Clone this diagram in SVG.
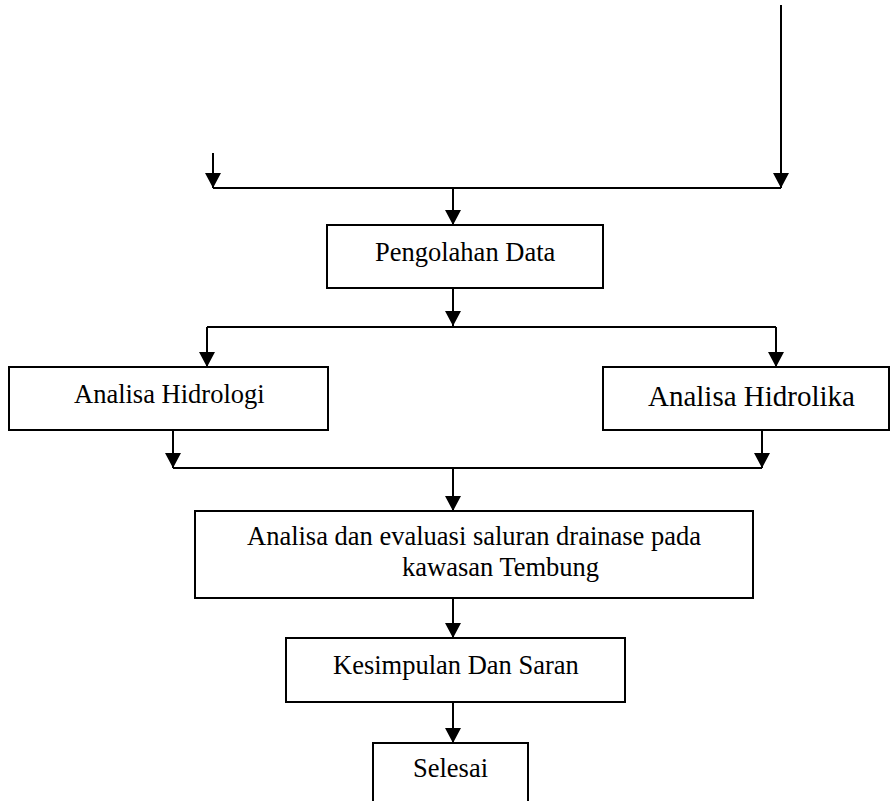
<svg xmlns="http://www.w3.org/2000/svg" width="891" height="801" viewBox="0 0 891 801">
<defs>
<marker id="ah" viewBox="0 0 15 16" refX="15" refY="8" markerWidth="15" markerHeight="16" markerUnits="userSpaceOnUse" orient="auto">
<path d="M0,0 L15,8 L0,16 z" fill="#000"/>
</marker>
<style>
.box{fill:#fff;stroke:#000;stroke-width:2}
.ln{fill:none;stroke:#000;stroke-width:2}
.ar{fill:none;stroke:#000;stroke-width:2;marker-end:url(#ah)}
.t{font-family:"Liberation Serif","Times New Roman",serif;font-size:26.5px;fill:#000}
</style>
</defs>
<rect width="891" height="801" fill="#fff"/>
<g id="connectors">
<line class="ar" x1="213" y1="153" x2="213" y2="188"/>
<line class="ar" x1="781" y1="5" x2="781" y2="188"/>
<line class="ln" x1="213" y1="188" x2="781" y2="188"/>
<line class="ar" x1="453" y1="188" x2="453" y2="225"/>
<line class="ar" x1="453" y1="288" x2="453" y2="326"/>
<line class="ln" x1="207" y1="327" x2="776" y2="327"/>
<line class="ar" x1="207" y1="327" x2="207" y2="367"/>
<line class="ar" x1="776" y1="327" x2="776" y2="367"/>
<line class="ar" x1="173" y1="430" x2="173" y2="468"/>
<line class="ar" x1="762" y1="430" x2="762" y2="468"/>
<line class="ln" x1="173" y1="468" x2="762" y2="468"/>
<line class="ar" x1="453" y1="468" x2="453" y2="511"/>
<line class="ar" x1="453" y1="598" x2="453" y2="638"/>
<line class="ar" x1="453" y1="702" x2="453" y2="743"/>
</g>
<g id="pengolahan">
<rect class="box" x="327" y="225" width="276" height="63"/>
<text class="t" x="375" y="261">Pengolahan Data</text>
</g>
<g id="hidrologi">
<rect class="box" x="9" y="367" width="319" height="63"/>
<text class="t" x="74" y="403">Analisa Hidrologi</text>
</g>
<g id="hidrolika">
<rect class="box" x="603" y="367" width="286" height="63"/>
<text class="t" x="648" y="406" style="font-size:29px">Analisa Hidrolika</text>
</g>
<g id="analisa">
<rect class="box" x="195" y="511" width="558" height="87"/>
<text class="t" x="247" y="545">Analisa dan evaluasi saluran drainase pada</text>
<text class="t" x="402" y="576">kawasan Tembung</text>
</g>
<g id="kesimpulan">
<rect class="box" x="286" y="638" width="339" height="64"/>
<text class="t" x="333" y="674">Kesimpulan Dan Saran</text>
</g>
<g id="selesai">
<rect class="box" x="373" y="743" width="155" height="70"/>
<text class="t" x="413" y="777">Selesai</text>
</g>
</svg>
